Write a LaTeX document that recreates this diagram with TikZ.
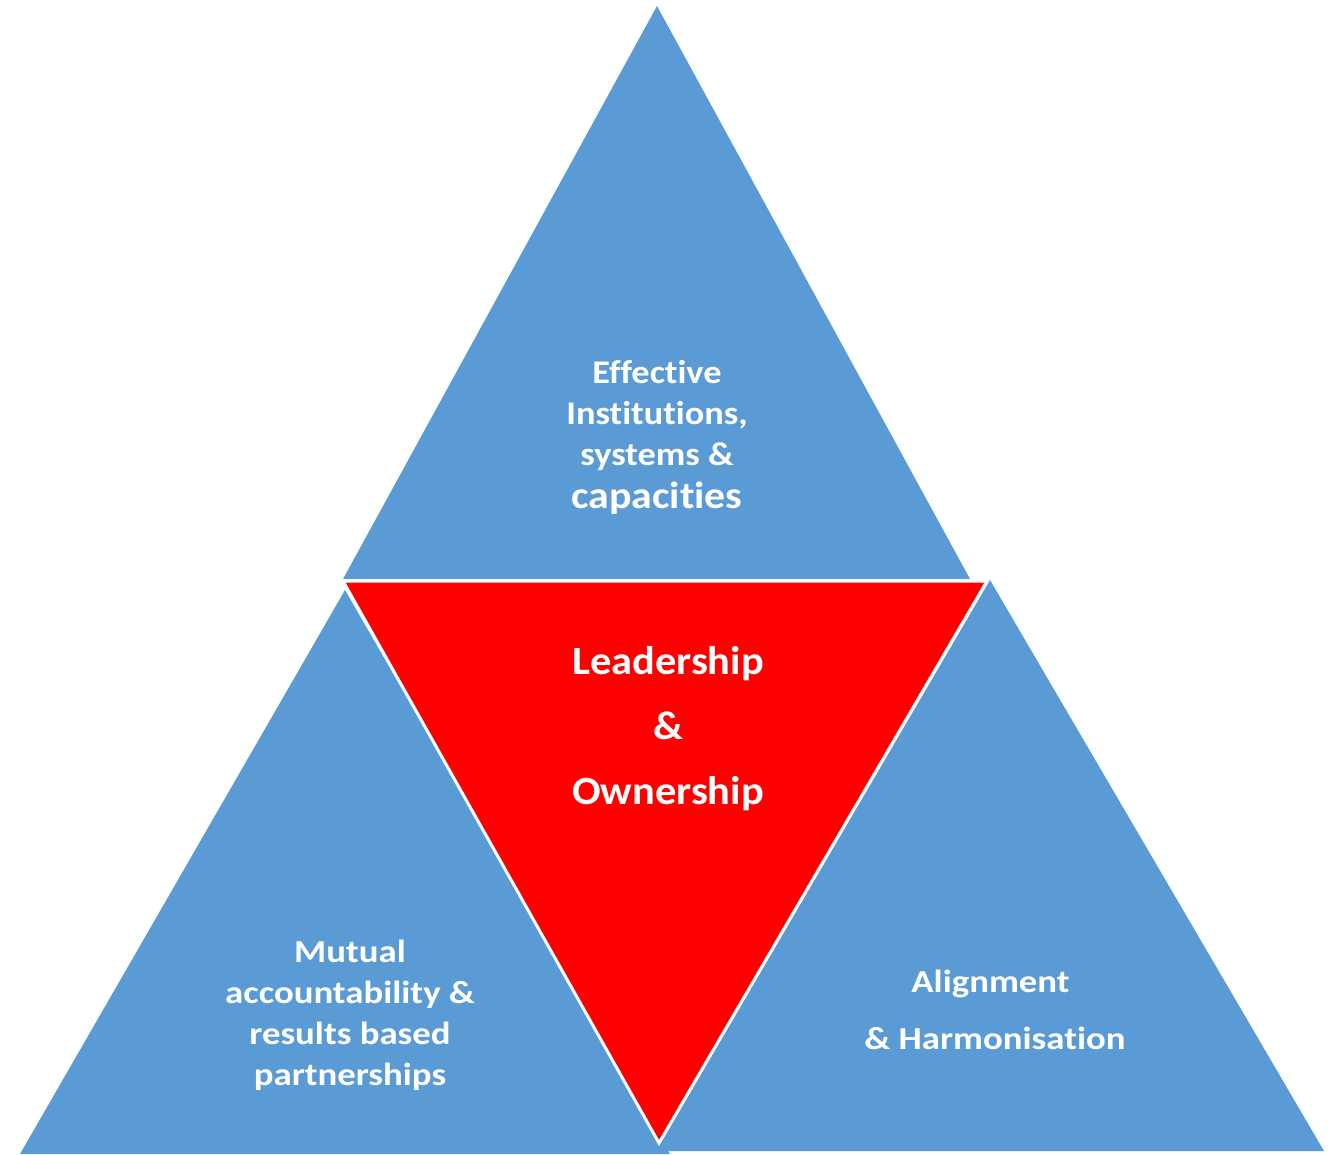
\documentclass[tikz,border=0pt]{standalone}
\usepackage{fontspec}
\setmainfont{Carlito}[Ligatures={NoCommon,NoContextual}]
\newfontfamily\fTop{Carlito}[FakeStretch=1.10,Ligatures={NoCommon,NoContextual}]
\newfontfamily\fCen{Carlito}[FakeStretch=1.06,Ligatures={NoCommon,NoContextual}]
\newfontfamily\fSide{Carlito}[FakeStretch=1.15,Ligatures={NoCommon,NoContextual}]
\definecolor{triblue}{HTML}{5B9BD5}
\definecolor{trired}{HTML}{FF0000}
\begin{document}
\begin{tikzpicture}[x=1pt,y=-1pt,
  bluetri/.style={fill=triblue,draw=none},
  redtri/.style={fill=trired,draw=white,line width=3pt,line join=miter},
  lbl/.style={text=white,align=center,inner sep=0pt}]
\useasboundingbox (0,0) rectangle (1337,1154);
% top triangle
\coordinate (tA) at (657,6);
\coordinate (tL) at (343,579);
\coordinate (tR) at (970,579);
\fill[bluetri] (tA) -- (tL) -- (tR) -- cycle;
% left triangle
\coordinate (lA) at (345,590);
\coordinate (lL) at (20,1154);
\coordinate (lR) at (670,1154);
\fill[bluetri] (lA) -- (lL) -- (lR) -- cycle;
% right triangle
\coordinate (rA) at (990,580);
\coordinate (rL) at (656,1151);
\coordinate (rR) at (1324,1151);
\fill[bluetri] (rA) -- (rL) -- (rR) -- cycle;
% red centre triangle
\coordinate (cL) at (343,581);
\coordinate (cR) at (987,581);
\coordinate (cB) at (659,1143);
\filldraw[redtri] (cL) -- (cR) -- (cB) -- cycle;
% labels
\node[lbl,font=\fTop\bfseries\fontsize{33}{41}\selectfont] (ttop) at (657,437)
  {Effective\\Institutions,\\systems \&\\[2pt]{\fontsize{38}{44}\selectfont capacities}};
\node[lbl,font=\fCen\bfseries\fontsize{40}{65}\selectfont] (tcen) at (668,729)
  {Leadership\\\&\\Ownership};
\node[lbl,font=\fSide\bfseries\fontsize{32}{41}\selectfont] (tleft) at (350,1015)
  {Mutual\\accountability \&\\results based\\partnerships};
\node[lbl,font=\fSide\bfseries\fontsize{32}{57}\selectfont] (tright) at (995,1010)
  {Alignment\hspace*{9pt}\\\& Harmonisation};
\end{tikzpicture}
\end{document}
